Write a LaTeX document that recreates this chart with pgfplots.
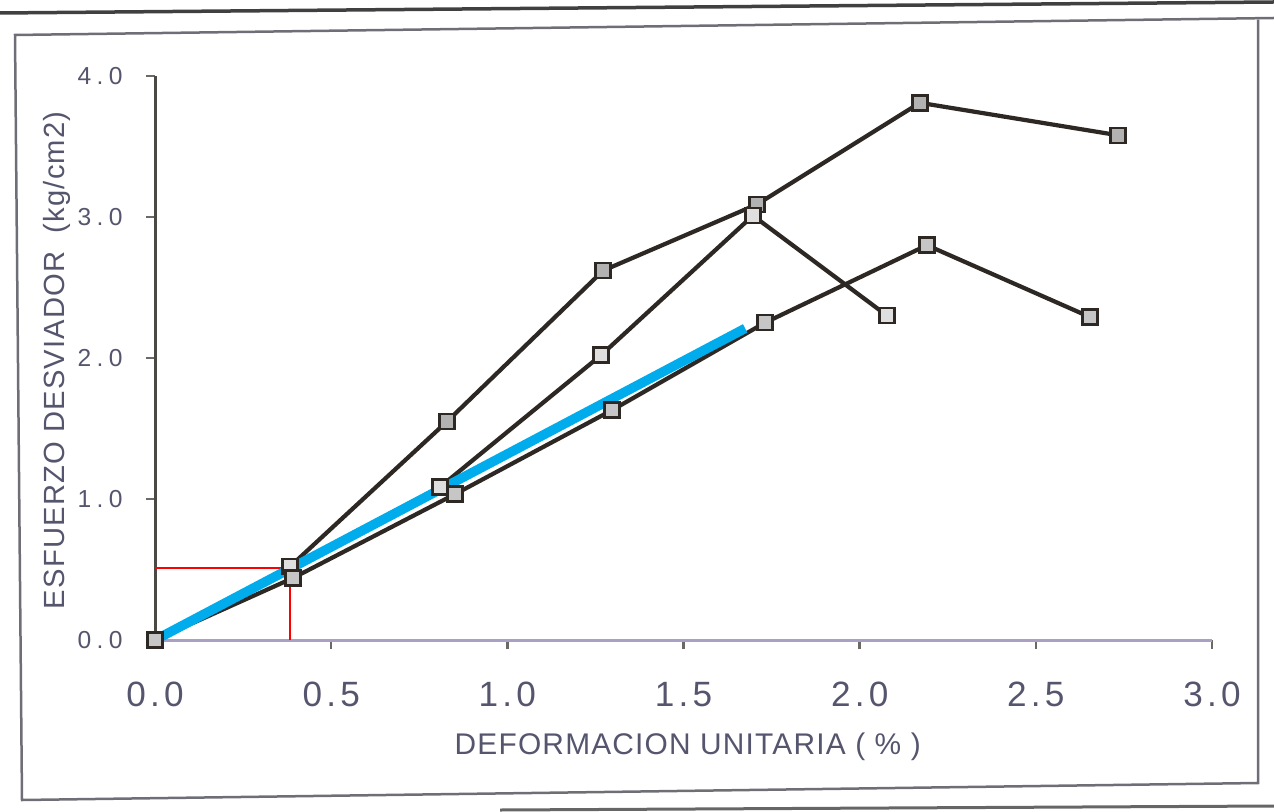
\documentclass[border=0pt]{standalone}
\usepackage{pgfplots}
\pgfplotsset{compat=1.18}
\usepackage{fontspec}
\setmainfont{Liberation Sans}
\newfontfamily\tickfont[LetterSpace=12]{Liberation Sans}
\newfontfamily\ytickfont[LetterSpace=22]{Liberation Sans}
\newfontfamily\labfont[LetterSpace=4]{Liberation Sans}
\definecolor{ink}{RGB}{45,40,35}
\definecolor{txt}{RGB}{85,85,110}
\definecolor{skyb}{RGB}{0,172,236}
\definecolor{framec}{RGB}{110,110,118}
\definecolor{xax}{RGB}{170,160,195}
\begin{document}
\begin{tikzpicture}
\useasboundingbox (0,0) rectangle (127.4mm,81.1mm);
% scanned page frame
\draw[framec, line width=0.25mm] (127.4mm,79.3mm) -- (1.5mm,77.6mm) -- (2.2mm,1.1mm) -- (125.8mm,2.8mm) -- (125.8mm,79.1mm);
\draw[black!75, line width=0.35mm] (0mm,79.8mm) -- (127.4mm,80.9mm);
\draw[black!60, line width=0.3mm] (50mm,0.1mm) -- (127.4mm,0.5mm);
\begin{axis}[
  at={(15.5mm,17.1mm)}, anchor=south west,
  width=105.7mm, height=56.4mm, scale only axis,
  xmin=0, xmax=3, ymin=0, ymax=4,
  clip=false,
  axis x line*=bottom, axis y line*=left,
  x axis line style={xax, line width=0.3mm, -},
  y axis line style={ink!85, line width=0.3mm, -},
  xtick={0,0.5,1,1.5,2,2.5,3}, ytick={0,1,2,3,4},
  tick align=outside,
  major tick length=0.9mm,
  x tick style={ink!70, line width=0.25mm},
  y tick style={ink!70, line width=0.25mm},
  xticklabel style={font=\tickfont\fontsize{10}{12}\selectfont, text=txt, yshift=-2.1mm},
  yticklabel style={font=\ytickfont\fontsize{7}{9}\selectfont, text=txt, xshift=-1.1mm},
  /pgf/number format/.cd, fixed, fixed zerofill, precision=1, assume math mode=true,
  /pgfplots/.cd,
  xlabel={DEFORMACION UNITARIA ( \% )},
  xlabel style={at={(axis description cs:0.504,-0.19)}, anchor=center, font=\labfont\fontsize{8.5}{10}\selectfont, text=txt},
  ylabel={ESFUERZO DESVIADOR\ \ (kg/cm2)},
  ylabel style={at={(axis description cs:-0.0927,0.496)}, anchor=center, font=\labfont\fontsize{8.3}{10}\selectfont, text=txt},
]
\addplot[ink, line width=1.2pt, mark=square*, mark size=0.75mm, mark options={fill=gray!60, draw=ink, line width=0.7pt}]
  coordinates {(0,0) (0.383,0.52) (0.829,1.55) (1.272,2.62) (1.709,3.09) (2.171,3.81) (2.733,3.58)};
\addplot[ink, line width=1.2pt, mark=square*, mark size=0.75mm, mark options={fill=gray!25, draw=ink, line width=0.7pt}]
  coordinates {(0,0) (0.383,0.52) (0.809,1.085) (1.266,2.02) (1.697,3.01) (2.078,2.30)};
\addplot[ink, line width=1.2pt, mark=square*, mark size=0.75mm, mark options={fill=gray!45, draw=ink, line width=0.7pt}]
  coordinates {(0,0) (0.392,0.44) (0.852,1.035) (1.297,1.63) (1.731,2.25) (2.191,2.80) (2.654,2.29)};
\addplot[red, line width=0.45pt] coordinates {(0,0.51) (0.383,0.51) (0.383,0)};
\addplot[skyb, line width=2.7pt] coordinates {(0,0) (1.675,2.21)};
\end{axis}
\end{tikzpicture}
\end{document}
